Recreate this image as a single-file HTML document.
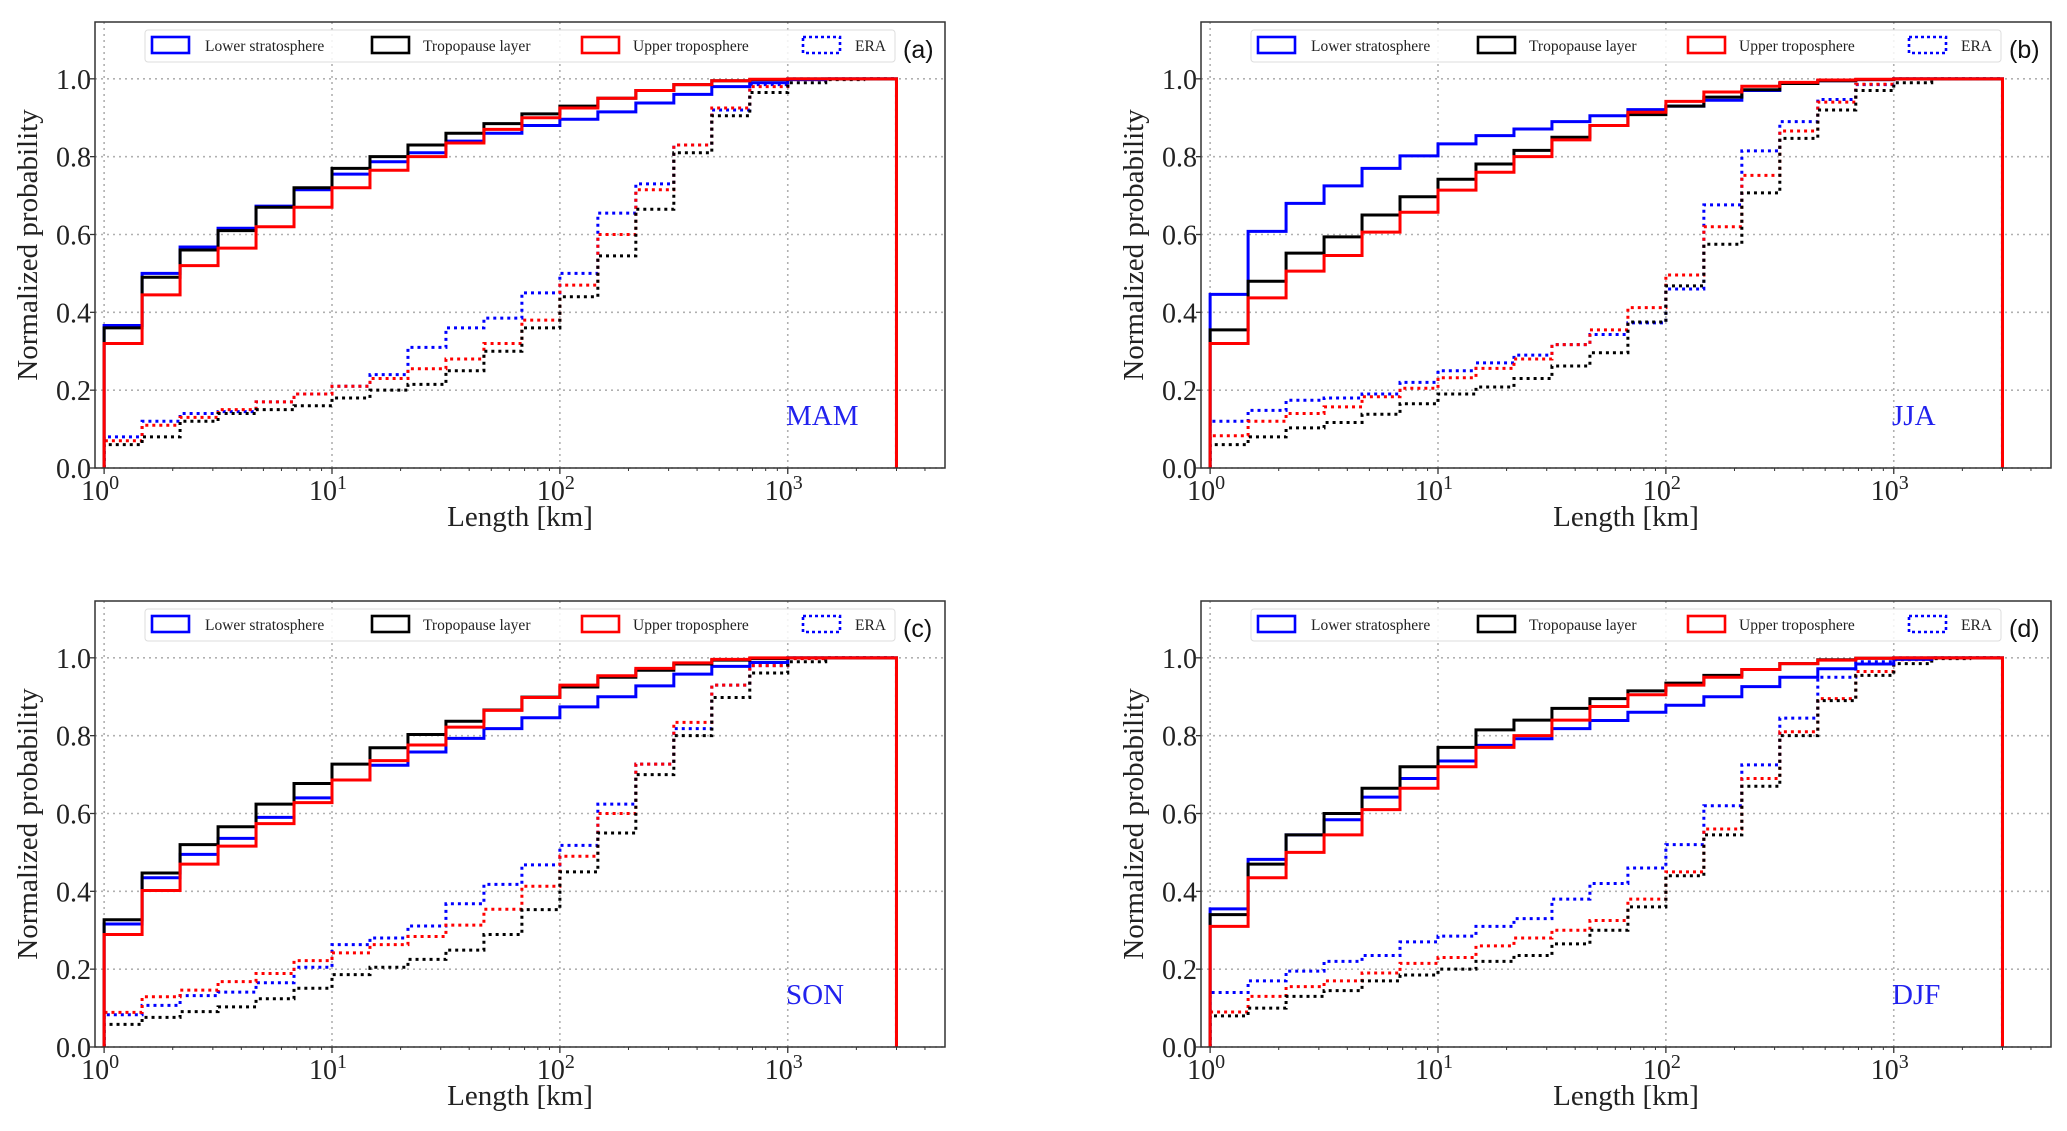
<!DOCTYPE html>
<html><head><meta charset="utf-8"><style>
html,body{margin:0;padding:0;background:#fff;}
svg{display:block;}
</style></head><body>
<svg id="fig" width="2067" height="1131" viewBox="0 0 2067 1131" xmlns="http://www.w3.org/2000/svg"></svg>
<script>
// ---- data ----
const panelIds = ['a','b','c','d'];
const seasons = ['MAM','JJA','SON','DJF'];
const seriesNames = ['Lower stratosphere','Tropopause layer','Upper troposphere','ERA'];
const yTicks = [0,0.2,0.4,0.6,0.8,1.0];
const yTickLabels = ['0.0','0.2','0.4','0.6','0.8','1.0'];
const xTickExps = [0,1,2,3];
const binEdgesLog = [0,1/6,2/6,3/6,4/6,5/6,1,7/6,8/6,9/6,10/6,11/6,2,13/6,14/6,15/6,16/6,17/6,3,19/6,20/6,Math.log10(3000)];

// panel a (MAM)
const aLS  = [0.366,0.50,0.568,0.616,0.673,0.715,0.755,0.787,0.81,0.84,0.86,0.88,0.896,0.915,0.938,0.96,0.98,0.99,0.998,1,1];
const aTL  = [0.36,0.49,0.56,0.61,0.67,0.72,0.77,0.80,0.83,0.86,0.885,0.91,0.93,0.95,0.97,0.985,0.995,0.998,1,1,1];
const aUT  = [0.32,0.445,0.52,0.565,0.62,0.67,0.72,0.765,0.80,0.835,0.87,0.90,0.925,0.95,0.97,0.985,0.995,0.999,1,1,1];
const aERAb= [0.08,0.12,0.14,0.145,0.17,0.19,0.21,0.24,0.31,0.36,0.385,0.45,0.50,0.655,0.73,0.83,0.92,0.985,1,1,1];
const aERAr= [0.07,0.11,0.13,0.15,0.17,0.19,0.21,0.23,0.255,0.28,0.32,0.38,0.47,0.60,0.715,0.83,0.925,0.98,0.998,1,1];
const aERAk= [0.06,0.08,0.12,0.14,0.15,0.16,0.18,0.20,0.215,0.25,0.30,0.36,0.44,0.545,0.665,0.81,0.905,0.965,0.99,0.998,1];
// panel b (JJA)
const bLS  = [0.446,0.608,0.68,0.725,0.77,0.802,0.833,0.854,0.871,0.89,0.905,0.921,0.93,0.945,0.97,0.988,0.995,0.998,1,1,1];
const bTL  = [0.355,0.48,0.552,0.594,0.65,0.697,0.742,0.781,0.816,0.85,0.88,0.908,0.93,0.953,0.972,0.988,0.995,0.998,1,1,1];
const bUT  = [0.32,0.437,0.506,0.546,0.606,0.657,0.714,0.76,0.80,0.843,0.88,0.914,0.942,0.966,0.981,0.991,0.997,0.999,1,1,1];
const bERAb= [0.12,0.148,0.174,0.18,0.19,0.22,0.25,0.27,0.29,0.317,0.343,0.373,0.46,0.676,0.815,0.89,0.947,0.985,1,1,1];
const bERAr= [0.083,0.12,0.14,0.157,0.183,0.205,0.232,0.256,0.28,0.317,0.355,0.412,0.496,0.62,0.752,0.866,0.94,0.986,1,1,1];
const bERAk= [0.06,0.08,0.103,0.117,0.138,0.165,0.19,0.208,0.23,0.262,0.296,0.375,0.468,0.575,0.707,0.847,0.92,0.97,0.99,1,1];
// panel c (SON)
const cLS  = [0.316,0.435,0.495,0.536,0.59,0.64,0.686,0.724,0.758,0.793,0.818,0.846,0.874,0.90,0.928,0.958,0.978,0.988,1,1,1];
const cTL  = [0.327,0.447,0.52,0.566,0.624,0.677,0.727,0.769,0.803,0.837,0.866,0.899,0.925,0.95,0.968,0.984,0.994,0.998,1,1,1];
const cUT  = [0.289,0.402,0.47,0.516,0.574,0.628,0.686,0.736,0.776,0.822,0.865,0.898,0.93,0.954,0.973,0.987,0.996,1,1,1,1];
const cERAb= [0.083,0.107,0.132,0.141,0.165,0.205,0.263,0.28,0.311,0.368,0.418,0.468,0.518,0.624,0.727,0.818,0.93,0.98,1,1,1];
const cERAr= [0.089,0.129,0.146,0.168,0.189,0.222,0.242,0.263,0.284,0.313,0.354,0.413,0.49,0.60,0.727,0.834,0.93,0.98,0.998,1,1];
const cERAk= [0.058,0.076,0.091,0.103,0.124,0.151,0.186,0.205,0.225,0.249,0.289,0.353,0.45,0.55,0.70,0.80,0.898,0.961,0.99,1,1];
// panel d (DJF)
const dLS  = [0.355,0.482,0.545,0.584,0.642,0.69,0.735,0.775,0.792,0.818,0.839,0.86,0.878,0.90,0.926,0.95,0.972,0.984,0.996,1,1];
const dTL  = [0.34,0.47,0.545,0.60,0.665,0.72,0.77,0.815,0.84,0.87,0.895,0.915,0.935,0.955,0.97,0.985,0.995,0.999,1,1,1];
const dUT  = [0.31,0.435,0.50,0.545,0.61,0.665,0.72,0.77,0.80,0.84,0.875,0.905,0.93,0.95,0.97,0.985,0.994,0.999,1,1,1];
const dERAb= [0.14,0.17,0.195,0.22,0.235,0.27,0.285,0.31,0.33,0.38,0.42,0.46,0.52,0.62,0.725,0.845,0.95,0.99,1,1,1];
const dERAr= [0.09,0.13,0.155,0.17,0.19,0.215,0.23,0.26,0.28,0.30,0.325,0.38,0.45,0.56,0.69,0.81,0.895,0.965,0.995,1,1];
const dERAk= [0.08,0.10,0.13,0.145,0.17,0.185,0.20,0.22,0.235,0.265,0.30,0.36,0.44,0.545,0.67,0.80,0.89,0.955,0.985,0.998,1];

const panelData = {
  a:[aLS,aTL,aUT,aERAb,aERAr,aERAk],
  b:[bLS,bTL,bUT,bERAb,bERAr,bERAk],
  c:[cLS,cTL,cUT,cERAb,cERAr,cERAk],
  d:[dLS,dTL,dUT,dERAb,dERAr,dERAk]
};

// ---- drawing ----
const NS='http://www.w3.org/2000/svg';
const svg=document.getElementById('fig');
function mk(tag,attrs,parent){const e=document.createElementNS(NS,tag);for(const k in attrs)e.setAttribute(k,attrs[k]);(parent||svg).appendChild(e);return e;}
const SERIF='"Liberation Serif", "DejaVu Serif", serif';
const SANS='"Liberation Sans", "DejaVu Sans", sans-serif';
const boxes={a:[95,22],b:[1201,22],c:[95,601],d:[1201,601]};
const W=850,H=446,XMIN=-0.04,XMAX=3.69,YMAX=1.146;

panelIds.forEach((pid,pi)=>{
  const [L,T]=boxes[pid];
  const g=mk('g',{});
  
  
  const sx=v=>L+(v-XMIN)/(XMAX-XMIN)*W;
  const sy=v=>T+H-(v/YMAX)*H;
  xTickExps.forEach(e=>{
    const l=mk('line',{x1:sx(e),x2:sx(e),y1:T,y2:T+H,stroke:'#b0b0b0','stroke-width':1.6,'stroke-dasharray':'2,4'},g);
    
    
  });
  yTicks.forEach(v=>{
    const l=mk('line',{x1:L,x2:L+W,y1:sy(v),y2:sy(v),stroke:'#b0b0b0','stroke-width':1.6,'stroke-dasharray':'2,4'},g);
    
    
  });
  const specs=[
    {i:3,c:'#0000ff',d:true,n:'era-lower-stratosphere'},
    {i:4,c:'#ff0000',d:true,n:'era-upper-troposphere'},
    {i:5,c:'#000000',d:true,n:'era-tropopause-layer'},
    {i:0,c:'#0000ff',d:false,n:'lower-stratosphere'},
    {i:1,c:'#000000',d:false,n:'tropopause-layer'},
    {i:2,c:'#ff0000',d:false,n:'upper-troposphere'}
  ];
  specs.forEach(s=>{
    const vals=panelData[pid][s.i];
    let p='M'+sx(binEdgesLog[0])+','+sy(0);
    vals.forEach((v,k)=>{p+=' V'+sy(v)+' H'+sx(binEdgesLog[k+1]);});
    p+=' V'+sy(0);
    const a={d:p,fill:'none',stroke:s.c,'stroke-width':3};
    if(s.d){a['stroke-dasharray']='3,4';}
    const e=mk('path',a,g);
    
    
  });
  const fr=mk('rect',{x:L,y:T,width:W,height:H,fill:'none',stroke:'#333','stroke-width':1.5},g);
  
  
  yTicks.forEach((v,k)=>{
    mk('line',{x1:L-5,x2:L,y1:sy(v),y2:sy(v),stroke:'#333','stroke-width':1.3},g);
    const t=mk('text',{x:L-4,y:sy(v)+10,'text-anchor':'end','font-family':SERIF,'font-size':28,fill:'#222'},g);
    t.textContent=yTickLabels[k];
    
    
  });
  xTickExps.forEach(e=>{
    mk('line',{x1:sx(e),x2:sx(e),y1:T+H,y2:T+H+6,stroke:'#333','stroke-width':1.3},g);
    const t=mk('text',{x:sx(e)-4,y:T+H+32,'text-anchor':'middle','font-family':SERIF,'font-size':28,fill:'#222'},g);
    t.textContent='10';
    const sup=mk('tspan',{dy:-11,'font-size':20},t);
    sup.textContent=String(e);
    
    
  });
  for(let d=0;d<4;d++){for(let m=2;m<=9;m++){const lv=d+Math.log10(m);if(lv>XMAX)break;
    mk('line',{x1:sx(lv),x2:sx(lv),y1:T+H,y2:T+H+3,stroke:'#333','stroke-width':1},g);}}
  const xt=mk('text',{x:L+W/2,y:T+H+58,'text-anchor':'middle','font-family':SERIF,'font-size':29,fill:'#222'},g);
  xt.textContent='Length [km]';
  
  
  const yt=mk('text',{x:0,y:0,'text-anchor':'middle','font-family':SERIF,'font-size':29,fill:'#222',transform:'translate('+(L-58)+','+(T+H/2)+') rotate(-90)'},g);
  yt.textContent='Normalized probability';
  
  
  const sl=mk('text',{x:L+691,y:T+H-43,'font-family':SERIF,'font-size':29,fill:'#2222ee'},g);
  sl.textContent=seasons[pi];
  
  
  const lg=mk('g',{},g);
  
  
  mk('rect',{x:L+50,y:T+8,width:750,height:32,rx:3,fill:'#fff','fill-opacity':0.85,stroke:'#ddd','stroke-width':1},lg);
  const hx=[57,277,487,708], tx=[110,328,538,760], hc=['#0000ff','#000000','#ff0000','#0000ff'];
  seriesNames.forEach((n,k)=>{
    const ra={x:L+hx[k],y:T+15,width:37,height:16,fill:'none',stroke:hc[k],'stroke-width':2.6};
    if(k===3)ra['stroke-dasharray']='3,3';
    const r=mk('rect',ra,lg);
    
    
    const t=mk('text',{x:L+tx[k],y:T+29,'font-family':SERIF,'font-size':15.5,fill:'#222'},lg);
    t.textContent=n;
    
    
  });
  const pl=mk('text',{x:L+808,y:T+36,'font-family':SANS,'font-size':25,fill:'#111'},g);
  pl.textContent='('+pid+')';
  
  
});
</script>
</body></html>
